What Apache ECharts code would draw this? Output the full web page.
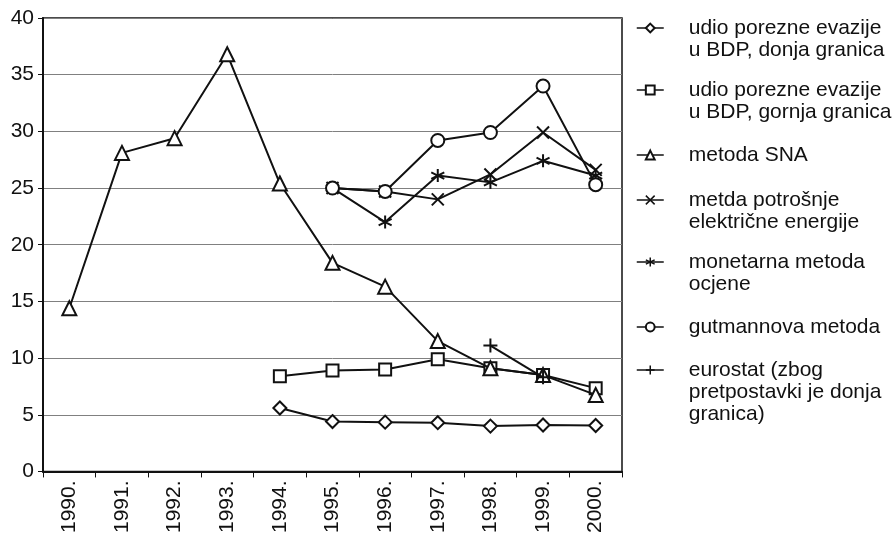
<!DOCTYPE html>
<html>
<head>
<meta charset="utf-8">
<script src="https://cdn.jsdelivr.net/npm/echarts@6/dist/echarts.min.js"></script>
<style>
html,body{margin:0;padding:0;background:#fff;}
#chart{width:895px;height:536px;}
</style>
</head>
<body>
<div id="chart"></div>
<script>
var years = ['1990.','1991.','1992.','1993.','1994.','1995.','1996.','1997.','1998.','1999.','2000.'];
var seriesNames = [
  'udio porezne evazije\nu BDP, donja granica',
  'udio porezne evazije\nu BDP, gornja granica',
  'metoda SNA',
  'metda potrošnje\nelektrične energije',
  'monetarna metoda\nocjene',
  'gutmannova metoda',
  'eurostat (zbog\npretpostavki je donja\ngranica)'
];
var donjaGranica = [null, null, null, null, 5.6, 4.4, 4.35, 4.3, 4.0, 4.1, 4.05];
var gornjaGranica = [null, null, null, null, 8.4, 8.9, 9.0, 9.9, 9.1, 8.5, 7.35];
var metodaSNA = [14.4, 28.1, 29.4, 36.8, 25.4, 18.4, 16.3, 11.5, 9.1, 8.5, 6.75];
var potrosnjaEnergije = [null, null, null, null, null, 25.0, 24.7, 24.0, 26.2, 29.9, 26.6];
var monetarnaMetoda = [null, null, null, null, null, 25.0, 22.0, 26.1, 25.5, 27.4, 26.1];
var gutmannova = [null, null, null, null, null, 25.0, 24.7, 29.2, 29.9, 34.0, 25.3];
var eurostat = [null, null, null, null, null, null, null, null, 11.1, 8.3, null];
var yTicks = {min: 0, max: 40, interval: 5};

var symX = 'path://M0,0L10,10M10,0L0,10';
var symAst = 'path://M5,0L5,10M0.7,2.5L9.3,7.5M0.7,7.5L9.3,2.5';
var symPlus = 'path://M5,0L5,10M0,5L10,5';

var allData = [donjaGranica, gornjaGranica, metodaSNA, potrosnjaEnergije, monetarnaMetoda, gutmannova, eurostat];
var symbols = ['emptyDiamond', 'emptyRect', 'emptyTriangle', symX, symAst, 'emptyCircle', symPlus];
var sizes = [13, 12, 14, 12, 13, 13, 14];

var FONT = '"Liberation Sans", Arial, Helvetica, sans-serif';
var LH = 22;
var legendMarkerY = [28, 90, 155, 200, 262, 327, 370];

var series = allData.map(function (d, i) {
  return {
    name: seriesNames[i],
    type: 'line',
    data: d,
    symbol: symbols[i],
    symbolSize: sizes[i],
    showAllSymbol: true,
    connectNulls: false,
    lineStyle: {color: '#111', width: 2},
    itemStyle: {color: '#111', borderColor: '#111', borderWidth: 2},
    z: 3 + i
  };
});

var legends = seriesNames.map(function (n, i) {
  var lines = n.split('\n').length;
  var blank = new Array(lines).join('\n');
  return {
    orient: 'vertical',
    left: 636,
    top: legendMarkerY[i] - (2 * lines - 1) * LH / 2,
    padding: 0,
    itemWidth: 27,
    itemHeight: 11,
    data: [n],
    formatter: function (name) { return blank + name; },
    textStyle: {fontFamily: FONT, fontSize: 21, lineHeight: LH, color: '#111', padding: [0, 0, 0, 20]},
    lineStyle: {width: 1.5},
    itemStyle: {borderWidth: 1.5}
  };
});

var chart = echarts.init(document.getElementById('chart'), null, {renderer: 'canvas'});
chart.setOption({
  animation: false,
  backgroundColor: '#fff',
  grid: {left: 43, right: 273, top: 18, bottom: 63, show: true, borderColor: '#111', borderWidth: 1.5, containLabel: false},
  legend: legends,
  xAxis: {
    type: 'category',
    data: years,
    boundaryGap: true,
    axisLine: {lineStyle: {color: '#111', width: 2}},
    axisTick: {show: true, length: 6, lineStyle: {color: '#111', width: 1}},
    axisLabel: {rotate: 90, margin: 9, interval: 0, fontFamily: FONT, fontSize: 21, color: '#111'},
    splitLine: {show: false}
  },
  yAxis: {
    type: 'value',
    min: yTicks.min,
    max: yTicks.max,
    interval: yTicks.interval,
    axisLine: {show: true, lineStyle: {color: '#111', width: 2}},
    axisTick: {show: true, length: 5, lineStyle: {color: '#111', width: 1}},
    axisLabel: {margin: 9, fontFamily: FONT, fontSize: 21, color: '#111'},
    splitLine: {show: true, lineStyle: {color: '#808080', width: 1}}
  },
  series: series
});
</script>
</body>
</html>
